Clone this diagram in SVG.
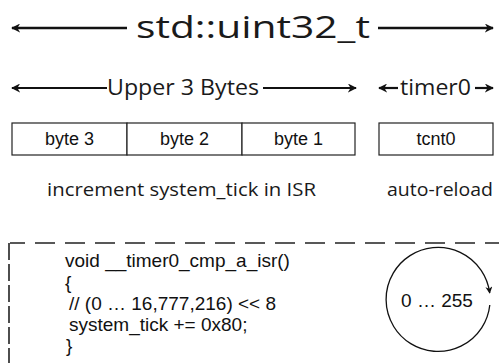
<svg xmlns="http://www.w3.org/2000/svg" width="499" height="363" viewBox="0 0 499 363">
<style>
.hd{font-family:"Open Sans","DejaVu Sans",sans-serif;fill:#1a1a1a}
.ar{font-family:"Liberation Sans",Arial,sans-serif;fill:#111}
.ln{stroke:#111;fill:none}
.box{fill:#fff;stroke:#222;stroke-width:1.2}
</style>
<defs>
<marker id="ah" viewBox="0 0 10 10" refX="9" refY="5" markerWidth="9" markerHeight="9" markerUnits="userSpaceOnUse" orient="auto-start-reverse">
<path d="M0,0 L10,5 L0,10 L3,5 z" fill="#111"/>
</marker>
<marker id="ah2" viewBox="0 0 10 10" refX="9" refY="5" markerWidth="7" markerHeight="7" markerUnits="userSpaceOnUse" orient="auto">
<path d="M0,0 L10,5 L0,10 L3,5 z" fill="#111"/>
</marker>
</defs>
<g id="connectors">
<line class="ln" x1="12" y1="28" x2="127" y2="28" stroke-width="2.5" marker-start="url(#ah)"/>
<line class="ln" x1="378" y1="28" x2="493" y2="28" stroke-width="2.5" marker-end="url(#ah)"/>
<line class="ln" x1="12" y1="88" x2="107" y2="88" stroke-width="2.2" marker-start="url(#ah)"/>
<line class="ln" x1="263" y1="88" x2="356" y2="88" stroke-width="2.2" marker-end="url(#ah)"/>
<line class="ln" x1="379" y1="88" x2="398" y2="88" stroke-width="2.2" marker-start="url(#ah)"/>
<line class="ln" x1="475" y1="88" x2="493" y2="88" stroke-width="2.2" marker-end="url(#ah)"/>
</g>
<g id="title"><text class="hd" x="136" y="38" font-size="31" textLength="234" lengthAdjust="spacingAndGlyphs">std::uint32_t</text></g>
<g id="upper"><text class="hd" x="107" y="95" font-size="22" textLength="152" lengthAdjust="spacingAndGlyphs">Upper 3 Bytes</text></g>
<g id="timer0"><text class="hd" x="400" y="95" font-size="22" textLength="71" lengthAdjust="spacingAndGlyphs">timer0</text></g>
<g id="byte3"><rect class="box" x="12" y="123" width="115" height="32"/><text class="ar" x="69.5" y="145" font-size="18" text-anchor="middle">byte 3</text></g>
<g id="byte2"><rect class="box" x="127" y="123" width="115" height="32"/><text class="ar" x="184.5" y="145" font-size="18" text-anchor="middle">byte 2</text></g>
<g id="byte1"><rect class="box" x="242" y="123" width="113" height="32"/><text class="ar" x="298.5" y="145" font-size="18" text-anchor="middle">byte 1</text></g>
<g id="tcnt0"><rect class="box" x="379" y="123" width="114" height="32"/><text class="ar" x="436" y="145" font-size="18" text-anchor="middle">tcnt0</text></g>
<g id="lbl-isr"><text class="hd" x="47" y="196" font-size="18" textLength="269" lengthAdjust="spacingAndGlyphs">increment system_tick in ISR</text></g>
<g id="lbl-reload"><text class="hd" x="387" y="196" font-size="18" textLength="106" lengthAdjust="spacingAndGlyphs">auto-reload</text></g>
<g id="frame">
<line x1="10" y1="243" x2="499" y2="243" stroke="#222" stroke-width="1.3" stroke-dasharray="20 10" stroke-dashoffset="5"/>
<line x1="9" y1="243" x2="9" y2="363" stroke="#222" stroke-width="1.6" stroke-dasharray="17 4"/>
</g>
<g id="code" class="ar" font-size="19">
<text x="65" y="267">void __timer0_cmp_a_isr()</text>
<text x="65" y="289">{</text>
<text x="69" y="310">// (0 … 16,777,216) &lt;&lt; 8</text>
<text x="69" y="331">system_tick += 0x80;</text>
<text x="66" y="352">}</text>
</g>
<g id="counter">
<path class="ln" stroke-width="1.3" d="M489.8,305 A52,52 0 1 1 489.7,293" marker-end="url(#ah2)"/>
<text class="ar" x="437" y="307" font-size="19" text-anchor="middle">0 … 255</text>
</g>
</svg>
